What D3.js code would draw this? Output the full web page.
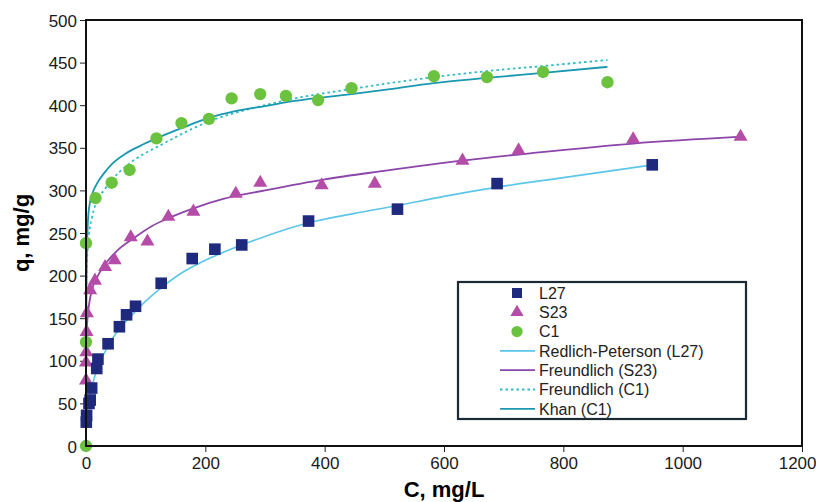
<!DOCTYPE html>
<html>
<head>
<meta charset="utf-8">
<script src="https://cdn.jsdelivr.net/npm/d3@7"></script>
<style>
  body { margin: 0; background: #fff; }
  text { font-family: "Liberation Sans", Arial, sans-serif; }
</style>
</head>
<body>
<div class="chart"></div>
<script>
// measured points, C (mg/L) and q (mg/g)
const l27C = [0.5, 1, 5, 7, 9.5, 18, 20, 37, 56, 68, 83, 126, 178, 216, 261, 373, 522, 689, 949];
const l27Q = [28, 36, 50, 54, 68, 91, 102, 120, 140, 154, 164, 191, 220, 231, 236, 264, 278, 308, 330];

const s23C = [0, 0, 0.5, 1, 1.5, 7, 15, 32, 48, 75, 103, 138, 180, 251, 292, 395, 484, 631, 725, 917, 1097];
const s23Q = [77, 98, 110, 134, 156, 183, 194, 210, 218, 245, 240, 269, 275, 296, 309, 306, 308, 335, 347, 360, 363];

const c1C = [0, 0, 0, 16, 43, 73, 118, 160, 206, 244, 292, 335, 389, 445, 583, 672, 766, 874];
const c1Q = [0, 122, 238, 291, 309, 324, 361, 379, 384, 408, 413, 411, 406, 420, 434, 433, 439, 427];

// fitted curves
const rpC = [0, 0.5, 1.5, 4, 8, 14, 20, 30, 40, 60, 80, 100, 125, 160, 200, 250, 300, 373, 450, 520, 600, 700, 800, 950];
const rpQ = [0, 22, 36, 50, 64, 80, 93, 108, 121, 141, 156, 170, 185, 203, 218, 233, 246, 262, 273, 282, 293, 305, 315, 330];

const frS23C = [0.02, 0.1, 0.5, 1, 2, 4, 7, 12, 20, 35, 55, 80, 110, 140, 180, 230, 300, 400, 500, 630, 750, 917, 1100];
const frS23Q = [70, 93, 118, 131, 145, 160, 174, 188, 200, 216, 231, 244, 258, 268, 279, 290, 300, 313, 323, 335, 344, 355, 363];

const frC1C = [0.01, 0.1, 1, 5, 10, 16, 30, 43, 70, 100, 122, 160, 206, 250, 300, 350, 445, 500, 583, 672, 766, 874];
const frC1Q = [119, 156, 206, 248, 268, 284, 300, 312, 330, 344, 352, 366, 381, 391, 400, 408, 419, 425, 433, 440, 446, 453];

const khanC = [0, 0.3, 1, 2, 4, 7, 11, 20, 30, 45, 66, 90, 118, 160, 206, 250, 300, 350, 445, 500, 583, 672, 766, 874];
const khanQ = [0, 120, 200, 240, 272, 287, 297, 310, 320, 332, 343, 352, 361, 373, 385, 393, 399, 405, 413, 418, 426, 432, 438, 445];

const xTicks = [0, 200, 400, 600, 800, 1000, 1200];
const yTicks = [0, 50, 100, 150, 200, 250, 300, 350, 400, 450, 500];

const width = 816, height = 502;
const margin = { top: 20, right: 14, bottom: 56, left: 86 };

const svg = d3.select(".chart").append("svg")
  .attr("width", width)
  .attr("height", height);

const x = d3.scaleLinear().domain([0, 1200]).range([margin.left, width - margin.right]);
const y = d3.scaleLinear().domain([0, 500]).range([height - margin.bottom, margin.top]);

// axes
const xAxis = svg.append("g")
  .attr("transform", `translate(0,${height - margin.bottom})`)
  .call(d3.axisBottom(x).tickValues(xTicks).tickFormat(d3.format("d"))
    .tickSize(6).tickSizeOuter(0).tickPadding(5));
const yAxis = svg.append("g")
  .attr("transform", `translate(${margin.left},0)`)
  .call(d3.axisLeft(y).tickValues(yTicks).tickFormat(d3.format("d"))
    .tickSize(6).tickSizeOuter(0).tickPadding(3));

[xAxis, yAxis].forEach(a => {
  a.select(".domain").remove();
  a.selectAll("text").attr("font-size", 17).attr("fill", "#1a1a1a")
    .attr("font-family", "Liberation Sans, Arial, sans-serif");
  a.selectAll("line").attr("stroke", "#222");
});
yAxis.selectAll("text").attr("dy", "0.36em");
// last x label sits against the right edge
xAxis.selectAll(".tick text").filter(d => d === 1200)
  .attr("text-anchor", "end")
  .attr("dx", 14);

svg.append("text")
  .attr("x", (margin.left + width - margin.right) / 2)
  .attr("y", 497)
  .attr("text-anchor", "middle")
  .attr("font-size", 22)
  .attr("font-weight", "bold")
  .text("C, mg/L");

svg.append("text")
  .attr("transform", `translate(29,${(margin.top + height - margin.bottom) / 2}) rotate(-90)`)
  .attr("text-anchor", "middle")
  .attr("font-size", 22)
  .attr("font-weight", "bold")
  .text("q, mg/g");

// fitted lines
const line = d3.line()
  .x(d => x(d[0]))
  .y(d => y(d[1]))
  .curve(d3.curveMonotoneX);

const zip = (a, b) => a.map((v, i) => [v, b[i]]);

const curves = [
  { pts: zip(rpC, rpQ), color: "#5cc6e8", dash: null, w: 1.6 },
  { pts: zip(frS23C, frS23Q), color: "#8c45a8", dash: null, w: 1.8 },
  { pts: zip(frC1C, frC1Q), color: "#2fbcc4", dash: "2.5,3", w: 1.8 },
  { pts: zip(khanC, khanQ), color: "#1a98b0", dash: null, w: 1.8 }
];

svg.selectAll(".fit")
  .data(curves)
  .join("path")
  .attr("class", "fit")
  .attr("d", d => line(d.pts))
  .attr("fill", "none")
  .attr("stroke", d => d.color)
  .attr("stroke-width", d => d.w)
  .attr("stroke-dasharray", d => d.dash);

// markers
const sym = d3.symbol();
const series = [
  { pts: zip(s23C, s23Q), type: d3.symbolTriangle, size: 85, color: "#b44ca8" },
  { pts: zip(l27C, l27Q), type: d3.symbolSquare, size: 135, color: "#1f2a7e" },
  { pts: zip(c1C, c1Q), type: d3.symbolCircle, size: 120, color: "#6bc23f" }
];

series.forEach(s => {
  svg.append("g").selectAll("path")
    .data(s.pts)
    .join("path")
    .attr("transform", d => `translate(${x(d[0])},${y(d[1])})`)
    .attr("d", sym.type(s.type).size(s.size)())
    .attr("fill", s.color);
});

// frame
svg.append("rect")
  .attr("x", margin.left)
  .attr("y", margin.top)
  .attr("width", width - margin.right - margin.left)
  .attr("height", height - margin.bottom - margin.top)
  .attr("fill", "none")
  .attr("stroke", "#111")
  .attr("stroke-width", 2);

// legend
const legend = svg.append("g");
legend.append("rect")
  .attr("x", 458).attr("y", 282)
  .attr("width", 288).attr("height", 137)
  .attr("fill", "#fff")
  .attr("stroke", "#1c2b33")
  .attr("stroke-width", 2.2);

const legendItems = [
  { label: "L27", kind: "mark", type: d3.symbolSquare, size: 100, color: "#1f2a7e" },
  { label: "S23", kind: "mark", type: d3.symbolTriangle, size: 75, color: "#b44ca8" },
  { label: "C1", kind: "mark", type: d3.symbolCircle, size: 100, color: "#6bc23f" },
  { label: "Redlich-Peterson (L27)", kind: "line", color: "#5cc6e8", dash: null },
  { label: "Freundlich (S23)", kind: "line", color: "#8c45a8", dash: null },
  { label: "Freundlich (C1)", kind: "line", color: "#2fbcc4", dash: "2.5,3" },
  { label: "Khan (C1)", kind: "line", color: "#1a98b0", dash: null }
];

legendItems.forEach((d, i) => {
  const cy = 293 + i * 19.3;
  if (d.kind === "mark") {
    legend.append("path")
      .attr("transform", `translate(517,${cy})`)
      .attr("d", sym.type(d.type).size(d.size)())
      .attr("fill", d.color);
  } else {
    legend.append("line")
      .attr("x1", 500).attr("x2", 535)
      .attr("y1", cy).attr("y2", cy)
      .attr("stroke", d.color)
      .attr("stroke-width", 1.8)
      .attr("stroke-dasharray", d.dash);
  }
  legend.append("text")
    .attr("x", 539)
    .attr("y", cy)
    .attr("dy", "0.36em")
    .attr("font-size", 16)
    .attr("fill", "#222")
    .text(d.label);
});
</script>
</body>
</html>
